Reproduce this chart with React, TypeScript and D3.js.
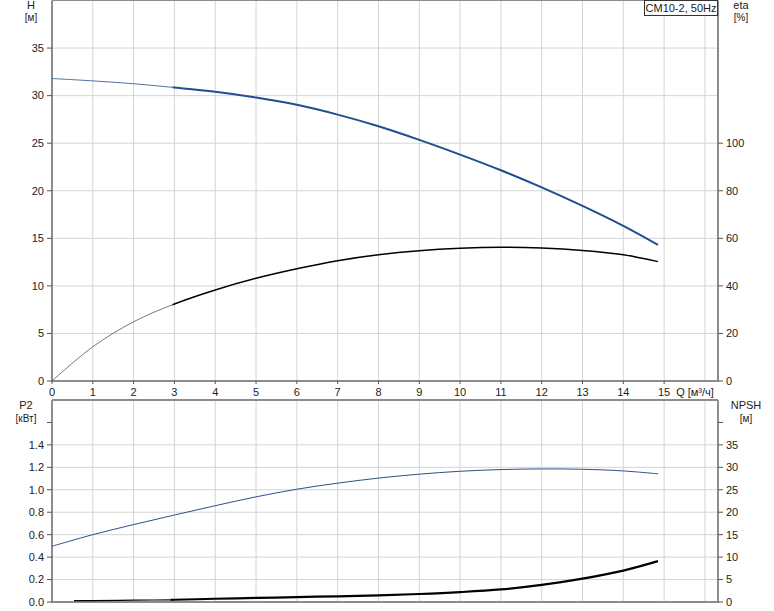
import React from "react";
import * as d3 from "d3";

const qValues = [0, 1, 2, 3, 4, 5, 6, 7, 8, 9, 10, 11, 12, 13, 14, 14.85];
const hValues = [31.8, 31.55, 31.25, 30.85, 30.4, 29.8, 29.03, 28.0, 26.78, 25.35, 23.8, 22.15, 20.35, 18.4, 16.3, 14.3];
const etaValues = [0, 14.4, 24.9, 32.4, 38.3, 43.2, 47.2, 50.6, 53.1, 54.8, 55.8, 56.2, 55.9, 54.9, 53.1, 50.2];
const p2Values = [0.497, 0.6, 0.69, 0.775, 0.858, 0.937, 1.005, 1.059, 1.104, 1.139, 1.165, 1.18, 1.186, 1.183, 1.168, 1.142];
const npshQ = [0.54, 1, 2, 3, 4, 5, 6, 7, 8, 9, 10, 11, 12, 13, 14, 14.85];
const npshValues = [0.3, 0.32, 0.4, 0.5, 0.72, 0.9, 1.1, 1.27, 1.48, 1.78, 2.2, 2.8, 3.8, 5.2, 7.0, 9.1];

const xTicks = [0, 1, 2, 3, 4, 5, 6, 7, 8, 9, 10, 11, 12, 13, 14, 15];
const xGrid = [1, 2, 3, 4, 5, 6, 7, 8, 9, 10, 11, 12, 13, 14, 15, 16];
const hTicks = [0, 5, 10, 15, 20, 25, 30, 35];
const etaTicks = [0, 20, 40, 60, 80, 100];
const p2Ticks = [0, 0.2, 0.4, 0.6, 0.8, 1.0, 1.2, 1.4];
const npshTicks = [0, 5, 10, 15, 20, 25, 30, 35];

const legendText = "CM10-2, 50Hz";
const FONT = "'Liberation Sans', Arial, sans-serif";
const TXT = "#222";

export default function App() {
  const L = 52, R = 718;
  const topT = 0.5, topB = 381;
  const botT = 400, botB = 602;

  const x = d3.scaleLinear().domain([0, 16.32]).range([L, R]);
  const yH = d3.scaleLinear().domain([0, 40]).range([topB, topT]);
  const yEta = d3.scaleLinear().domain([0, 160]).range([topB, topT]);
  const yP = d3.scaleLinear().domain([0, 1.8]).range([botB, botT]);
  const yN = d3.scaleLinear().domain([0, 45]).range([botB, botT]);

  const mk = (xs: number[], ys: number[], sy: d3.ScaleLinear<number, number>) => {
    const pts = xs.map((q, i) => [q, ys[i]] as [number, number]);
    const line = d3.line<[number, number]>().x(d => x(d[0])).y(d => sy(d[1])).curve(d3.curveCatmullRom.alpha(0.5));
    return line(pts) || "";
  };

  const hPath = mk(qValues, hValues, yH);
  const ePath = mk(qValues, etaValues, yEta);
  const pPath = mk(qValues, p2Values, yP);
  const nPath = mk(npshQ, npshValues, yN);

  const gridC = "#d4d4d4";
  const axisC = "#8c8c8c";
  const blue = "#1f4f8f";
  const split = x(2.95);
  const nSplit = x(2.9);

  return (
    <svg width={774} height={611} style={{ position: "absolute", left: 0, top: 0, background: "#fff" }}
      fontFamily={FONT} fontSize={11}>
      <defs>
        <clipPath id="thinTop"><rect x={0} y={0} width={split} height={611} /></clipPath>
        <clipPath id="thickTop"><rect x={split} y={0} width={774 - split} height={611} /></clipPath>
        <clipPath id="thinN"><rect x={0} y={0} width={nSplit} height={611} /></clipPath>
        <clipPath id="thickN"><rect x={nSplit} y={0} width={774 - nSplit} height={611} /></clipPath>
      </defs>
      {xGrid.map(v => (
        <line key={"tg" + v} x1={x(v)} x2={x(v)} y1={topT} y2={topB} stroke={gridC} strokeWidth={1} />
      ))}
      {hTicks.filter(v => v > 0).map(v => (
        <line key={"th" + v} x1={L} x2={R} y1={yH(v)} y2={yH(v)} stroke={gridC} strokeWidth={1} />
      ))}
      {xGrid.map(v => (
        <line key={"bg" + v} x1={x(v)} x2={x(v)} y1={botT} y2={botB} stroke={gridC} strokeWidth={1} />
      ))}
      {p2Ticks.filter(v => v > 0).map(v => (
        <line key={"bh" + v} x1={L} x2={R} y1={yP(v)} y2={yP(v)} stroke={gridC} strokeWidth={1} />
      ))}

      <line x1={L} x2={R} y1={topT} y2={topT} stroke={axisC} strokeWidth={1} />
      <line x1={L} x2={L} y1={topT} y2={topB} stroke={axisC} strokeWidth={2} />
      <line x1={R} x2={R} y1={topT} y2={topB} stroke={axisC} strokeWidth={2} />
      <line x1={L - 1} x2={R + 1} y1={topB} y2={topB} stroke={axisC} strokeWidth={2} />
      <line x1={L} x2={R} y1={botT} y2={botT} stroke={axisC} strokeWidth={2} />
      <line x1={L} x2={L} y1={botT} y2={botB} stroke={axisC} strokeWidth={2} />
      <line x1={R} x2={R} y1={botT} y2={botB} stroke={axisC} strokeWidth={2} />
      <line x1={L - 1} x2={R + 1} y1={botB} y2={botB} stroke={axisC} strokeWidth={2} />

      {hTicks.map(v => (
        <g key={"hl" + v}>
          <line x1={L - 5} x2={L} y1={yH(v)} y2={yH(v)} stroke="#555" strokeWidth={1} />
          <text x={L - 8} y={yH(v)} dy="0.35em" textAnchor="end" fill={TXT}>{v}</text>
        </g>
      ))}
      {etaTicks.map(v => (
        <g key={"er" + v}>
          <line x1={R} x2={R + 5} y1={yEta(v)} y2={yEta(v)} stroke="#555" strokeWidth={1} />
          <text x={R + 8} y={yEta(v)} dy="0.35em" textAnchor="start" fill={TXT}>{v}</text>
        </g>
      ))}
      {xTicks.map(v => (
        <g key={"xt" + v}>
          <line x1={x(v)} x2={x(v)} y1={topB} y2={topB + 3} stroke="#555" strokeWidth={1} />
          <text x={x(v)} y={topB + 11} dy="0.35em" textAnchor="middle" fill={TXT}>{v}</text>
        </g>
      ))}
      <text x={695} y={topB + 11} dy="0.35em" textAnchor="middle" fill={TXT}>Q [м³/ч]</text>

      {[...p2Ticks, 1.6].map(v => (
        <g key={"pl" + v}>
          <line x1={L - 5} x2={L} y1={yP(v)} y2={yP(v)} stroke="#555" strokeWidth={1} />
          {v <= 1.4 && (
            <text x={L - 8} y={yP(v)} dy="0.35em" textAnchor="end" fill={TXT}>{v.toFixed(1)}</text>
          )}
        </g>
      ))}
      {[...npshTicks, 40].map(v => (
        <g key={"nr" + v}>
          <line x1={R} x2={R + 5} y1={yN(v)} y2={yN(v)} stroke="#555" strokeWidth={1} />
          {v <= 35 && (
            <text x={R + 8} y={yN(v)} dy="0.35em" textAnchor="start" fill={TXT}>{v}</text>
          )}
        </g>
      ))}

      <text x={31} y={5} dy="0.35em" textAnchor="middle" fill={TXT}>H</text>
      <text x={31} y={17} dy="0.35em" textAnchor="middle" fill={TXT} fontSize={10}>[м]</text>
      <text x={741} y={5} dy="0.35em" textAnchor="middle" fill={TXT}>eta</text>
      <text x={741} y={17} dy="0.35em" textAnchor="middle" fill={TXT} fontSize={10}>[%]</text>
      <text x={26} y={405} dy="0.35em" textAnchor="middle" fill={TXT}>P2</text>
      <text x={26} y={418} dy="0.35em" textAnchor="middle" fill={TXT} fontSize={10}>[кВт]</text>
      <text x={746} y={405} dy="0.35em" textAnchor="middle" fill={TXT}>NPSH</text>
      <text x={746} y={418} dy="0.35em" textAnchor="middle" fill={TXT} fontSize={10}>[м]</text>

      <rect x={644.5} y={0.5} width={73} height={15} fill="#fff" stroke="#333" strokeWidth={1} />
      <text x={681} y={8} dy="0.35em" textAnchor="middle" fill={TXT}>{legendText}</text>

      <path d={ePath} fill="none" stroke="#555" strokeWidth={0.8} clipPath="url(#thinTop)" />
      <path d={ePath} fill="none" stroke="#000" strokeWidth={1.5} clipPath="url(#thickTop)" />
      <path d={hPath} fill="none" stroke={blue} strokeWidth={0.8} clipPath="url(#thinTop)" />
      <path d={hPath} fill="none" stroke={blue} strokeWidth={2} clipPath="url(#thickTop)" />
      <path d={pPath} fill="none" stroke="#2c5088" strokeWidth={1} />
      <path d={nPath} fill="none" stroke="#000" strokeWidth={1.2} clipPath="url(#thinN)" />
      <path d={nPath} fill="none" stroke="#000" strokeWidth={2.2} clipPath="url(#thickN)" />
    </svg>
  );
}
